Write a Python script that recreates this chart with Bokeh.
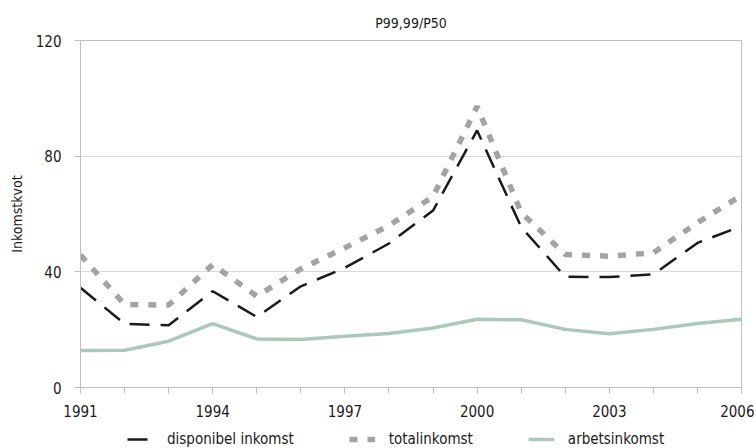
from bokeh.plotting import figure
from bokeh.layouts import column
from bokeh.models import FixedTicker, Legend, LegendItem, Range1d
from bokeh.embed import file_html
from bokeh.resources import INLINE

years = list(range(1991, 2007))
disponibel = [34.5, 22.0, 21.5, 33.3, 24.4, 35.0, 41.4, 49.8, 61.2, 88.9, 55.5, 38.3, 38.2, 39.1, 50.0, 55.8]
total = [45.8, 28.7, 28.5, 42.5, 31.6, 41.0, 48.3, 56.0, 66.0, 97.2, 60.5, 46.0, 45.4, 46.6, 57.0, 66.4]
arbete = [12.8, 12.9, 16.0, 22.1, 16.8, 16.6, 17.7, 18.7, 20.6, 23.6, 23.4, 20.1, 18.6, 20.1, 22.1, 23.6]
x_ticks = [1991, 1994, 1997, 2000, 2003, 2006]
y_ticks = [0, 40, 80, 120]
series_names = ["disponibel inkomst", "totalinkomst", "arbetsinkomst"]
series_values = [disponibel, total, arbete]
title_text = "P99,99/P50"
y_label = "Inkomstkvot"

FONT = "DejaVu Sans Condensed"
GRID = "#d9d9d9"
AXIS = "#bfbfbf"
TXT = "#1a1a1a"

styles = [
    dict(line_color="#1a1a1a", line_width=2.5, line_dash="20 11"),
    dict(line_color="#a3a3a6", line_width=5.5, line_dash="8 10"),
    dict(line_color="#a9c9ba", line_width=3.5),
]

p = figure(frame_width=661, frame_height=347, output_backend="svg", toolbar_location=None,
           x_range=Range1d(1991, 2006), y_range=Range1d(0, 120),
           min_border_left=80, min_border_right=13, min_border_top=40, min_border_bottom=40)

p.title.text = title_text
p.title.align = "center"
p.title.text_font = FONT
p.title.text_font_size = "14px"
p.title.text_font_style = "normal"
p.title.text_color = TXT
p.title.standoff = 20

p.outline_line_color = AXIS
p.background_fill_color = "white"
p.border_fill_color = "white"

p.xaxis.ticker = FixedTicker(ticks=x_ticks, minor_ticks=years)
p.yaxis.ticker = FixedTicker(ticks=y_ticks)
p.xgrid.grid_line_color = None
p.ygrid.grid_line_color = GRID
p.ygrid.grid_line_width = 1

for ax in (p.xaxis[0], p.yaxis[0]):
    ax.axis_line_color = AXIS
    ax.major_tick_line_color = AXIS
    ax.minor_tick_line_color = AXIS
    ax.major_tick_in = 0
    ax.major_tick_out = 6
    ax.minor_tick_in = 0
    ax.minor_tick_out = 6
    ax.major_label_text_font = FONT
    ax.major_label_text_font_size = "15px"
    ax.major_label_text_color = TXT
p.yaxis.minor_tick_line_color = None
p.xaxis.major_label_standoff = 11
p.yaxis.major_label_standoff = 13
p.yaxis.axis_label = y_label
p.yaxis.axis_label_text_font = FONT
p.yaxis.axis_label_text_font_size = "14px"
p.yaxis.axis_label_text_font_style = "normal"
p.yaxis.axis_label_text_color = TXT
p.yaxis.axis_label_standoff = 8

for vals, s in zip(series_values, styles):
    p.line(years, vals, **s)

# legend strip below the chart; its frame is aligned with the main frame by the column
lf = figure(width=754, height=21, output_backend="svg", toolbar_location=None,
            x_axis_location=None, y_axis_location=None,
            x_range=Range1d(0, 1), y_range=Range1d(0, 1),
            min_border_left=0, min_border_right=0, min_border_top=0, min_border_bottom=0)
lf.grid.visible = False
lf.outline_line_color = None
lf.background_fill_color = "white"
lf.border_fill_color = "white"
# same series, outside this strip's visible ranges: only their legend glyphs show
lr = [lf.line(years, vals, **s) for vals, s in zip(series_values, styles)]

legend = Legend(items=[LegendItem(label=n, renderers=[r]) for n, r in zip(series_names, lr)],
                orientation="horizontal", location=(47, 0),
                label_text_font=FONT, label_text_font_size="15px", label_text_color=TXT,
                glyph_width=26, glyph_height=16, label_standoff=14, spacing=55,
                border_line_color=None, background_fill_alpha=0,
                padding=0, margin=0)
lf.add_layout(legend, "center")

layout = column(p, lf, spacing=0)
open("out.html", "w").write(file_html(layout, INLINE))
